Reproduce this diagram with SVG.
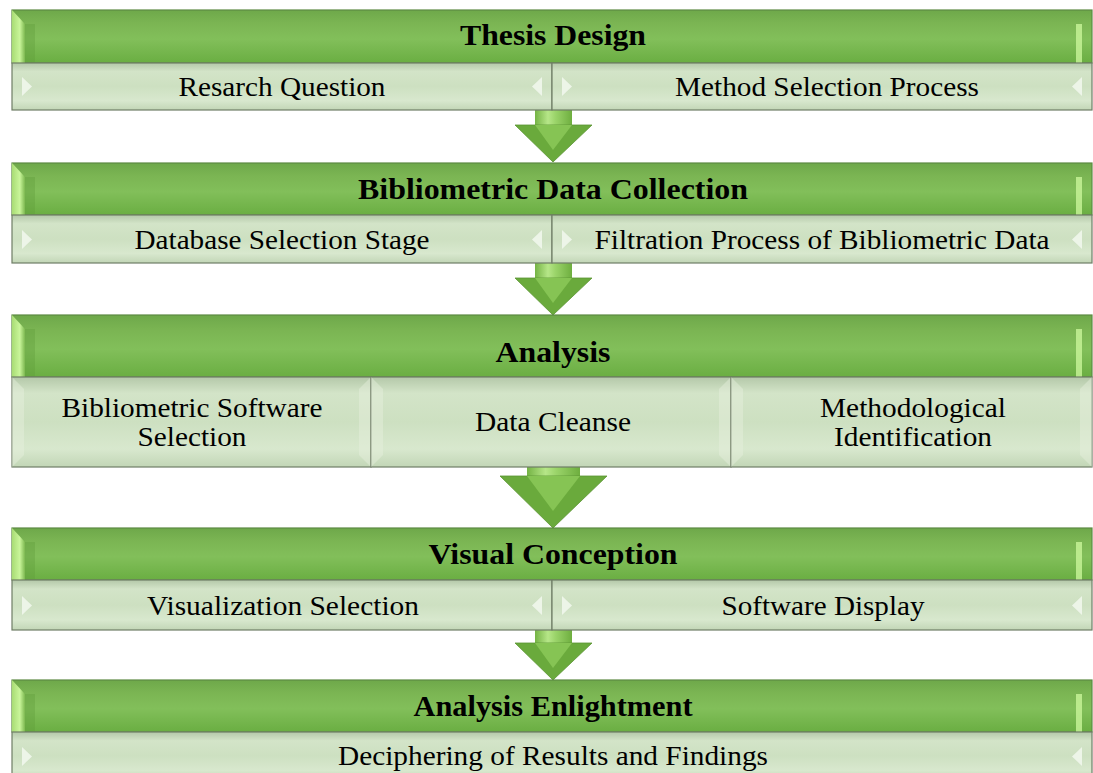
<svg xmlns="http://www.w3.org/2000/svg" width="1093" height="773" viewBox="0 0 1093 773">
<defs>
<linearGradient id="hg" x1="0" y1="0" x2="0" y2="1">
<stop offset="0" stop-color="#6ea84a"/>
<stop offset="0.25" stop-color="#7bb553"/>
<stop offset="0.55" stop-color="#82bf5a"/>
<stop offset="1" stop-color="#6aae42"/>
</linearGradient>
<linearGradient id="sg" x1="0" y1="0" x2="0" y2="1">
<stop offset="0" stop-color="#b4c8a9"/>
<stop offset="0.18" stop-color="#d3e4c8"/>
<stop offset="0.5" stop-color="#cde0c1"/>
<stop offset="0.8" stop-color="#d8e8ce"/>
<stop offset="1" stop-color="#c2d6b6"/>
</linearGradient>
<linearGradient id="lb" x1="0" y1="0" x2="1" y2="0">
<stop offset="0" stop-color="#a8dc74"/>
<stop offset="0.6" stop-color="#c9f59a"/>
<stop offset="1" stop-color="#7cb850"/>
</linearGradient>
<linearGradient id="shaft" x1="0" y1="0" x2="1" y2="0">
<stop offset="0" stop-color="#74b344"/>
<stop offset="0.35" stop-color="#b6e688"/>
<stop offset="0.55" stop-color="#9bd46a"/>
<stop offset="1" stop-color="#6eae3f"/>
</linearGradient>
<style>
.hdr{fill:url(#hg);stroke:#5d8a43;stroke-width:1.2}
.sub{fill:url(#sg);stroke:#6f7d66;stroke-width:1.2}
.lbev{fill:url(#lb)}
.shd{fill:#5f9a3a;opacity:0.35}
.rb{fill:#c9f59a;opacity:0.8}
.tri{fill:#f2f8ee;opacity:0.85}
.face{fill:#e6f0de;opacity:0.45}
.tt{font-family:"Liberation Serif","Times New Roman",serif;font-weight:bold;font-size:30px;fill:#000;text-anchor:middle}
.st{font-family:"Liberation Serif","Times New Roman",serif;font-size:28px;fill:#000;text-anchor:middle}
.ah{fill:#6aaa3c;stroke:#5a9432;stroke-width:0.8}
.ai{fill:#86c454}
.as{fill:url(#shaft)}
</style>
</defs>

<g id="connectors">
<g id="arrow1">
<rect class="as" x="535" y="108" width="37" height="18"/>
<polygon class="ah" points="515,125 592,125 553,162"/>
<polygon class="ai" points="535,125 572,125 553,150"/>
</g>
<g id="arrow2">
<rect class="as" x="535" y="261" width="37" height="18"/>
<polygon class="ah" points="515,278 592,278 553,315"/>
<polygon class="ai" points="535,278 572,278 553,303"/>
</g>
<g id="arrow3">
<rect class="as" x="527" y="465" width="53" height="12"/>
<polygon class="ah" points="500,476 607,476 553,528"/>
<polygon class="ai" points="527,476 580,476 553,511"/>
</g>
<g id="arrow4">
<rect class="as" x="535" y="628" width="37" height="16"/>
<polygon class="ah" points="515,643 592,643 553,680"/>
<polygon class="ai" points="535,643 572,643 553,668"/>
</g>
</g>

<g id="thesis-design">
<rect class="hdr" x="12" y="10" width="1080" height="53"/>
<polygon class="lbev" points="12,10 25,24 25,63 12,63"/>
<rect class="shd" x="25" y="24" width="10" height="39"/>
<rect class="rb" x="1076" y="24" width="6" height="39"/>
<text class="tt" x="553" y="45" textLength="186" lengthAdjust="spacingAndGlyphs">Thesis Design</text>
</g>
<g id="research-question">
<rect class="sub" x="12" y="63" width="540" height="47"/>
<polygon class="tri" points="22,77 32,86.5 22,96"/>
<polygon class="tri" points="542,77 532,86.5 542,96" opacity="0.4"/>
<text class="st" x="282" y="96" textLength="207" lengthAdjust="spacingAndGlyphs">Resarch Question</text>
</g>
<g id="method-selection">
<rect class="sub" x="552" y="63" width="540" height="47"/>
<polygon class="tri" points="562,77 572,86.5 562,96"/>
<polygon class="tri" points="1082,77 1072,86.5 1082,96"/>
<text class="st" x="827" y="96" textLength="304" lengthAdjust="spacingAndGlyphs">Method Selection Process</text>
</g>

<g id="bibliometric-data-collection">
<rect class="hdr" x="12" y="163" width="1080" height="52"/>
<polygon class="lbev" points="12,163 25,177 25,215 12,215"/>
<rect class="shd" x="25" y="177" width="10" height="38"/>
<rect class="rb" x="1076" y="177" width="6" height="38"/>
<text class="tt" x="553" y="199" textLength="390" lengthAdjust="spacingAndGlyphs">Bibliometric Data Collection</text>
</g>
<g id="database-selection">
<rect class="sub" x="12" y="215" width="540" height="48"/>
<polygon class="tri" points="22,230 32,239.5 22,249"/>
<polygon class="tri" points="542,230 532,239.5 542,249" opacity="0.4"/>
<text class="st" x="282" y="249" textLength="295" lengthAdjust="spacingAndGlyphs">Database Selection Stage</text>
</g>
<g id="filtration-process">
<rect class="sub" x="552" y="215" width="540" height="48"/>
<polygon class="tri" points="562,230 572,239.5 562,249"/>
<polygon class="tri" points="1082,230 1072,239.5 1082,249"/>
<text class="st" x="822" y="249" textLength="455" lengthAdjust="spacingAndGlyphs">Filtration Process of Bibliometric Data</text>
</g>

<g id="analysis">
<rect class="hdr" x="12" y="315" width="1080" height="62"/>
<polygon class="lbev" points="12,315 25,329 25,377 12,377"/>
<rect class="shd" x="25" y="329" width="10" height="48"/>
<rect class="rb" x="1076" y="329" width="6" height="48"/>
<text class="tt" x="553" y="362" textLength="115" lengthAdjust="spacingAndGlyphs">Analysis</text>
</g>
<g id="software-selection">
<rect class="sub" x="12" y="377" width="359" height="90"/>
<polygon class="face" points="12,377 24,389 24,455 12,467"/>
<polygon class="face" points="359,389 371,377 371,467 359,455"/>
<text class="st" x="192" y="417" textLength="261" lengthAdjust="spacingAndGlyphs">Bibliometric Software</text>
<text class="st" x="192" y="446" textLength="109" lengthAdjust="spacingAndGlyphs">Selection</text>
</g>
<g id="data-cleanse">
<rect class="sub" x="371" y="377" width="360" height="90"/>
<polygon class="face" points="371,377 383,389 383,455 371,467"/>
<polygon class="face" points="719,389 731,377 731,467 719,455"/>
<text class="st" x="553" y="431" textLength="156" lengthAdjust="spacingAndGlyphs">Data Cleanse</text>
</g>
<g id="methodological-identification">
<rect class="sub" x="731" y="377" width="361" height="90"/>
<polygon class="face" points="731,377 743,389 743,455 731,467"/>
<polygon class="face" points="1080,389 1092,377 1092,467 1080,455"/>
<text class="st" x="913" y="417" textLength="186" lengthAdjust="spacingAndGlyphs">Methodological</text>
<text class="st" x="913" y="446" textLength="158" lengthAdjust="spacingAndGlyphs">Identification</text>
</g>

<g id="visual-conception">
<rect class="hdr" x="12" y="528" width="1080" height="52"/>
<polygon class="lbev" points="12,528 25,542 25,580 12,580"/>
<rect class="shd" x="25" y="542" width="10" height="38"/>
<rect class="rb" x="1076" y="542" width="6" height="38"/>
<text class="tt" x="553" y="564" textLength="249" lengthAdjust="spacingAndGlyphs">Visual Conception</text>
</g>
<g id="visualization-selection">
<rect class="sub" x="12" y="580" width="540" height="50"/>
<polygon class="tri" points="22,596 32,605.5 22,615"/>
<polygon class="tri" points="542,596 532,605.5 542,615" opacity="0.4"/>
<text class="st" x="283" y="615" textLength="272" lengthAdjust="spacingAndGlyphs">Visualization Selection</text>
</g>
<g id="software-display">
<rect class="sub" x="552" y="580" width="540" height="50"/>
<polygon class="tri" points="562,596 572,605.5 562,615"/>
<polygon class="tri" points="1082,596 1072,605.5 1082,615"/>
<text class="st" x="823" y="615" textLength="203" lengthAdjust="spacingAndGlyphs">Software Display</text>
</g>

<g id="analysis-enlightment">
<rect class="hdr" x="12" y="680" width="1080" height="52"/>
<polygon class="lbev" points="12,680 25,694 25,732 12,732"/>
<rect class="shd" x="25" y="694" width="10" height="38"/>
<rect class="rb" x="1076" y="694" width="6" height="38"/>
<text class="tt" x="553" y="716" textLength="279" lengthAdjust="spacingAndGlyphs">Analysis Enlightment</text>
</g>
<g id="deciphering-results">
<rect class="sub" x="12" y="732" width="1080" height="48"/>
<polygon class="tri" points="22,747 32,756.5 22,766"/>
<polygon class="tri" points="1082,747 1072,756.5 1082,766"/>
<text class="st" x="553" y="765" textLength="430" lengthAdjust="spacingAndGlyphs">Deciphering of Results and Findings</text>
</g>
</svg>
